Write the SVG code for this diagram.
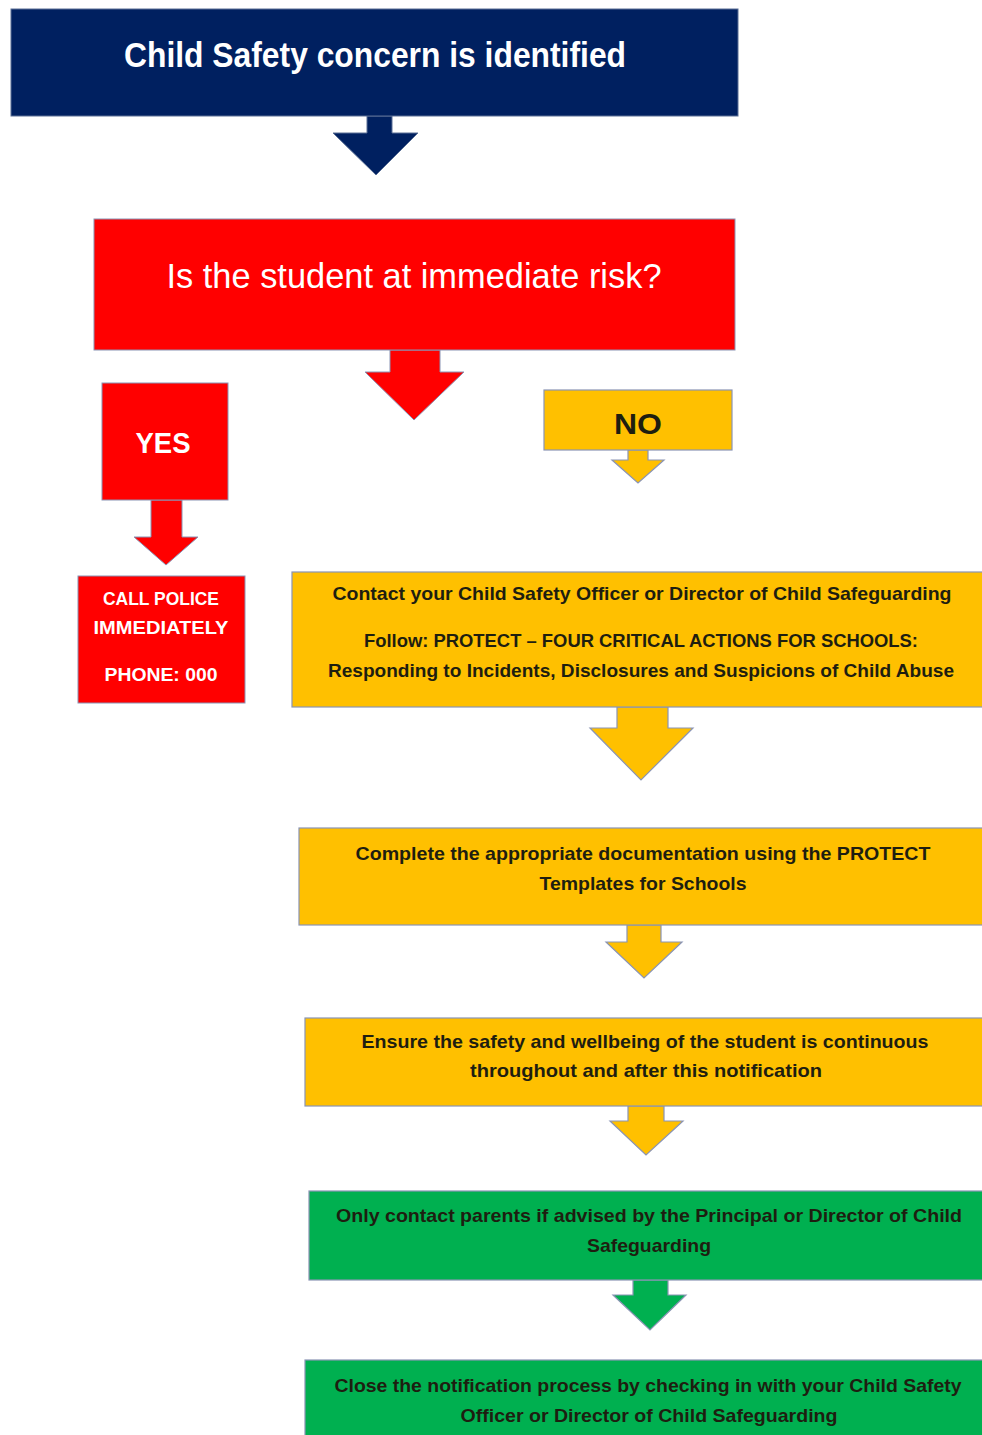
<svg xmlns="http://www.w3.org/2000/svg" width="982" height="1435" viewBox="0 0 982 1435">
<style>
.navy{fill:#002060;stroke:#5a6f95;stroke-width:1}
.red{fill:#ff0000;stroke:#8a94b4;stroke-width:1}
.yel{fill:#ffc000;stroke:#8a94b4;stroke-width:1.2}
.grn{fill:#00b050;stroke:#8a94b4;stroke-width:1.2}
text{font-family:"Liberation Sans",Arial,sans-serif;font-weight:bold;text-anchor:middle}
.wt{fill:#ffffff}
.dk{fill:#1e1e10}
.big{font-size:35px}
.sm{font-size:19px}
</style>
<rect width="982" height="1435" fill="#ffffff"/>
<g id="connectors">
<polygon class="navy" points="367,116 392,116 392,133 418,133 376,175 333,133 367,133"/>
<polygon class="red" points="390,350 440,350 440,372 464,372 414,420 365,372 390,372"/>
<polygon class="red" points="151,500 182,500 182,537 198,537 166,565 134,537 151,537"/>
<polygon class="yel" points="628,450 648,450 648,460 664,460 638,483 612,460 628,460"/>
<polygon class="yel" points="617,707 668,707 668,728 693,728 641,780 590,728 617,728"/>
<polygon class="yel" points="627,925 661,925 661,942 682,942 644,978 606,942 627,942"/>
<polygon class="yel" points="628,1106 664,1106 664,1121 683,1121 646,1155 610,1121 628,1121"/>
<polygon class="grn" points="633,1280 668,1280 668,1295 686,1295 650,1330 613,1295 633,1295"/>
</g>
<g id="start">
<rect class="navy" x="11" y="9" width="727" height="107"/>
<text class="wt big" x="375" y="67" textLength="502" lengthAdjust="spacingAndGlyphs">Child Safety concern is identified</text>
</g>
<g id="decision">
<rect class="red" x="94" y="219" width="641" height="131"/>
<text class="wt big" x="414" y="288" textLength="495" lengthAdjust="spacingAndGlyphs" style="font-weight:normal">Is the student at immediate risk?</text>
</g>
<g id="yes">
<rect class="red" x="102" y="383" width="126" height="117"/>
<text class="wt" x="163" y="453" style="font-size:30px" textLength="55" lengthAdjust="spacingAndGlyphs">YES</text>
</g>
<g id="police">
<rect class="red" x="78" y="576" width="167" height="127"/>
<text class="wt" style="font-size:18px" x="161" y="605" textLength="116" lengthAdjust="spacingAndGlyphs">CALL POLICE</text>
<text class="wt" style="font-size:18px" x="161" y="634" textLength="135" lengthAdjust="spacingAndGlyphs">IMMEDIATELY</text>
<text class="wt" style="font-size:18px" x="161" y="681" textLength="113" lengthAdjust="spacingAndGlyphs">PHONE: 000</text>
</g>
<g id="no">
<rect class="yel" x="544" y="390" width="188" height="60"/>
<text class="dk" x="638" y="434" style="font-size:30px" textLength="48" lengthAdjust="spacingAndGlyphs">NO</text>
</g>
<g id="contact">
<rect class="yel" x="292" y="572" width="692" height="135"/>
<text class="dk sm" x="642" y="600" textLength="619" lengthAdjust="spacingAndGlyphs">Contact your Child Safety Officer or Director of Child Safeguarding</text>
<text class="dk sm" x="641" y="647" textLength="554" lengthAdjust="spacingAndGlyphs">Follow: PROTECT – FOUR CRITICAL ACTIONS FOR SCHOOLS:</text>
<text class="dk sm" x="641" y="677" textLength="626" lengthAdjust="spacingAndGlyphs">Responding to Incidents, Disclosures and Suspicions of Child Abuse</text>
</g>
<g id="document">
<rect class="yel" x="299" y="828" width="685" height="97"/>
<text class="dk sm" x="643" y="860" textLength="575" lengthAdjust="spacingAndGlyphs">Complete the appropriate documentation using the PROTECT</text>
<text class="dk sm" x="643" y="890" textLength="207" lengthAdjust="spacingAndGlyphs">Templates for Schools</text>
</g>
<g id="ensure">
<rect class="yel" x="305" y="1018" width="679" height="88"/>
<text class="dk sm" x="645" y="1048" textLength="567" lengthAdjust="spacingAndGlyphs">Ensure the safety and wellbeing of the student is continuous</text>
<text class="dk sm" x="646" y="1077" textLength="352" lengthAdjust="spacingAndGlyphs">throughout and after this notification</text>
</g>
<g id="parents">
<rect class="grn" x="309" y="1191" width="675" height="89"/>
<text class="dk sm" x="649" y="1222" textLength="626" lengthAdjust="spacingAndGlyphs">Only contact parents if advised by the Principal or Director of Child</text>
<text class="dk sm" x="649" y="1252" textLength="124" lengthAdjust="spacingAndGlyphs">Safeguarding</text>
</g>
<g id="close">
<rect class="grn" x="305" y="1360" width="679" height="80"/>
<text class="dk sm" x="648" y="1392" textLength="627" lengthAdjust="spacingAndGlyphs">Close the notification process by checking in with your Child Safety</text>
<text class="dk sm" x="649" y="1422" textLength="377" lengthAdjust="spacingAndGlyphs">Officer or Director of Child Safeguarding</text>
</g>
</svg>
